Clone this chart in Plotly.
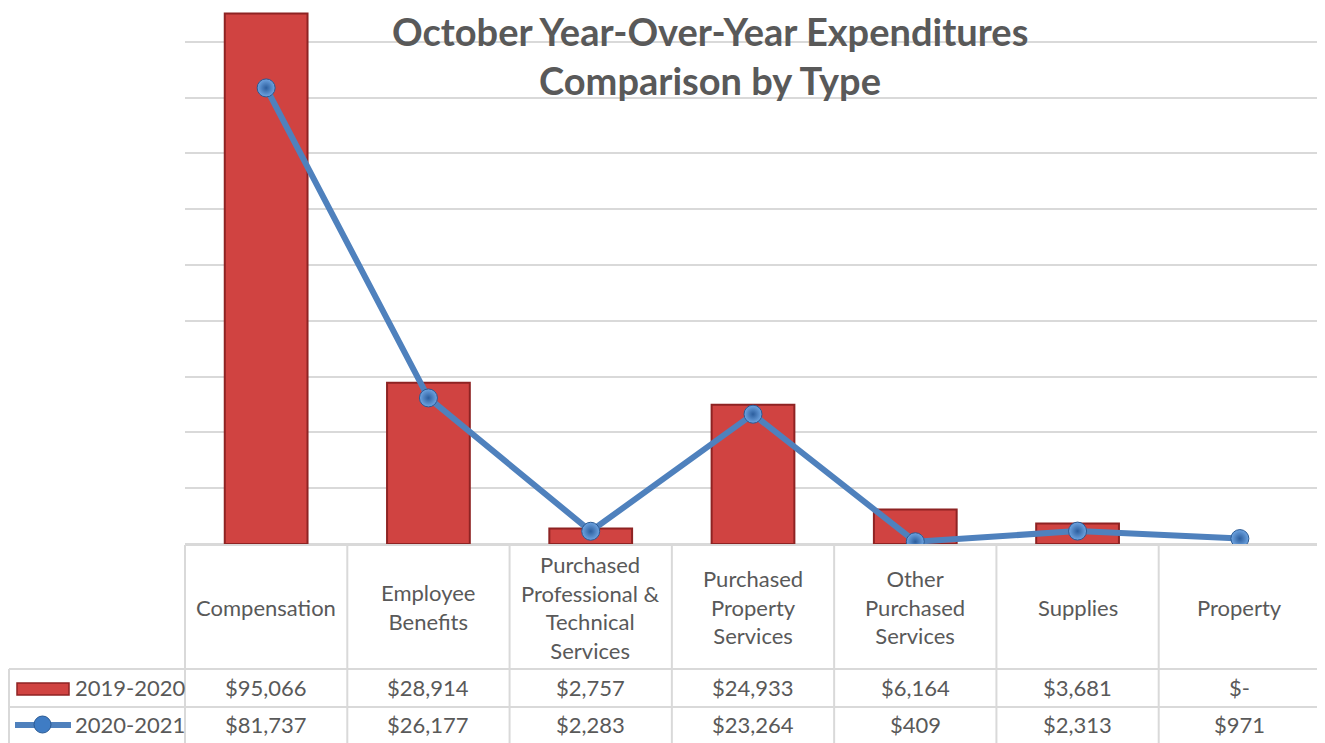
import plotly.graph_objects as go

categories = ["Compensation", "Employee<br>Benefits", "Purchased<br>Professional &<br>Technical<br>Services",
              "Purchased<br>Property<br>Services", "Other<br>Purchased<br>Services", "Supplies", "Property"]
series_names = ["2019-2020", "2020-2021"]
values_2019 = [95066, 28914, 2757, 24933, 6164, 3681, 0]
values_2020 = [81737, 26177, 2283, 23264, 409, 2313, 971]
title_lines = ["October Year-Over-Year Expenditures", "Comparison by Type"]

OFF = 8  # page body margin
W, H = 1325 - OFF, 743 - OFF
PL, PR, PT, PB = 185 - OFF, 1321 - OFF, 0, 544 - OFF  # plot area in figure pixels

def px(x):  # screen x -> paper
    return (x - OFF - PL) / (PR - PL)

def py(y):  # screen y -> paper
    return (PB - (y - OFF)) / (PB - PT)

def money(v):
    return "$-" if v == 0 else "${:,}".format(v)

TXT = "#595959"
GRID = "#D9D9D9"
FONT = "Lato"
FS = 22

fig = go.Figure()
fig.add_trace(go.Bar(x=list(range(len(categories))), y=values_2019, name=series_names[0], width=0.51,
                     marker=dict(color="#D04341",
                                 line=dict(color="#8E2323", width=[0 if v == 0 else 2 for v in values_2019]))))
fig.add_trace(go.Scatter(x=list(range(len(categories))), y=values_2020, name=series_names[1], mode="lines+markers",
                         line=dict(color="#4F81BD", width=6),
                         marker=dict(size=18, color="#6FA5E2", gradient=dict(type="radial", color="#2C5E9E"),
                                     line=dict(color="#2A5A94", width=1))))

shapes = []
for y in [545, 669, 707]:
    x0 = 185 if y == 545 else 9
    shapes.append(dict(type="line", xref="paper", yref="paper", x0=px(x0), x1=px(1321), y0=py(y), y1=py(y),
                       line=dict(color=GRID, width=2)))
col_w = (1321 - 185) / len(categories)
for i in range(len(categories) + 1):
    x = 185 + i * col_w
    shapes.append(dict(type="line", xref="paper", yref="paper", x0=px(x), x1=px(x), y0=py(545), y1=py(760),
                       line=dict(color=GRID, width=2)))
shapes.append(dict(type="line", xref="paper", yref="paper", x0=px(9), x1=px(9), y0=py(669), y1=py(760),
                   line=dict(color=GRID, width=2)))
# legend keys
shapes.append(dict(type="rect", xref="paper", yref="paper", x0=px(17), x1=px(69), y0=py(683), y1=py(695),
                   fillcolor="#D04341", line=dict(color="#8E2323", width=1.5)))
shapes.append(dict(type="line", xref="paper", yref="paper", x0=px(15), x1=px(71), y0=py(725), y1=py(725),
                   line=dict(color="#4F81BD", width=6)))
shapes.append(dict(type="circle", xref="paper", yref="paper", x0=px(34), x1=px(51), y0=py(716), y1=py(733),
                   fillcolor="#3F7CC4", line=dict(color="#2A5A94", width=1)))

annotations = []
for i, c in enumerate(categories):
    annotations.append(dict(x=i, xref="x", y=py(607), yref="paper", text=c, showarrow=False,
                            font=dict(family=FONT, size=FS, color=TXT), align="center",
                            xanchor="center", yanchor="middle"))
    annotations.append(dict(x=i, xref="x", y=py(688), yref="paper", text=money(values_2019[i]), showarrow=False,
                            font=dict(family=FONT, size=FS, color=TXT), xanchor="center", yanchor="middle"))
    annotations.append(dict(x=i, xref="x", y=py(724), yref="paper", text=money(values_2020[i]), showarrow=False,
                            font=dict(family=FONT, size=FS, color=TXT), xanchor="center", yanchor="middle"))
for name, y in zip(series_names, [688, 724]):
    annotations.append(dict(x=px(73), xref="paper", y=py(y), yref="paper", text=name, showarrow=False,
                            font=dict(family=FONT, size=FS, color=TXT), xanchor="left", yanchor="middle"))
for line, y in zip(title_lines, [31, 80]):
    annotations.append(dict(x=px(710), xref="paper", y=py(y), yref="paper", text="<b>" + line + "</b>",
                            showarrow=False, font=dict(family=FONT, size=38, color=TXT), borderpad=0,
                            xanchor="center", yanchor="middle"))

fig.update_layout(
    width=W, height=H, autosize=False,
    margin=dict(l=PL, r=W - PR, t=PT, b=H - PB),
    paper_bgcolor="white", plot_bgcolor="white",
    showlegend=False,
    bargap=0.49,
    xaxis=dict(range=[-0.5, len(categories) - 0.5], showticklabels=False, showgrid=False, zeroline=False,
               showline=False, fixedrange=True),
    yaxis=dict(range=[0, 10000 * (PB - PT) / 55.8], dtick=10000, showticklabels=False, showgrid=True,
               gridcolor=GRID, gridwidth=2, zeroline=True, zerolinecolor=GRID, zerolinewidth=2,
               showline=False, fixedrange=True),
    shapes=shapes, annotations=annotations,
)

fig.write_html("out.html")
